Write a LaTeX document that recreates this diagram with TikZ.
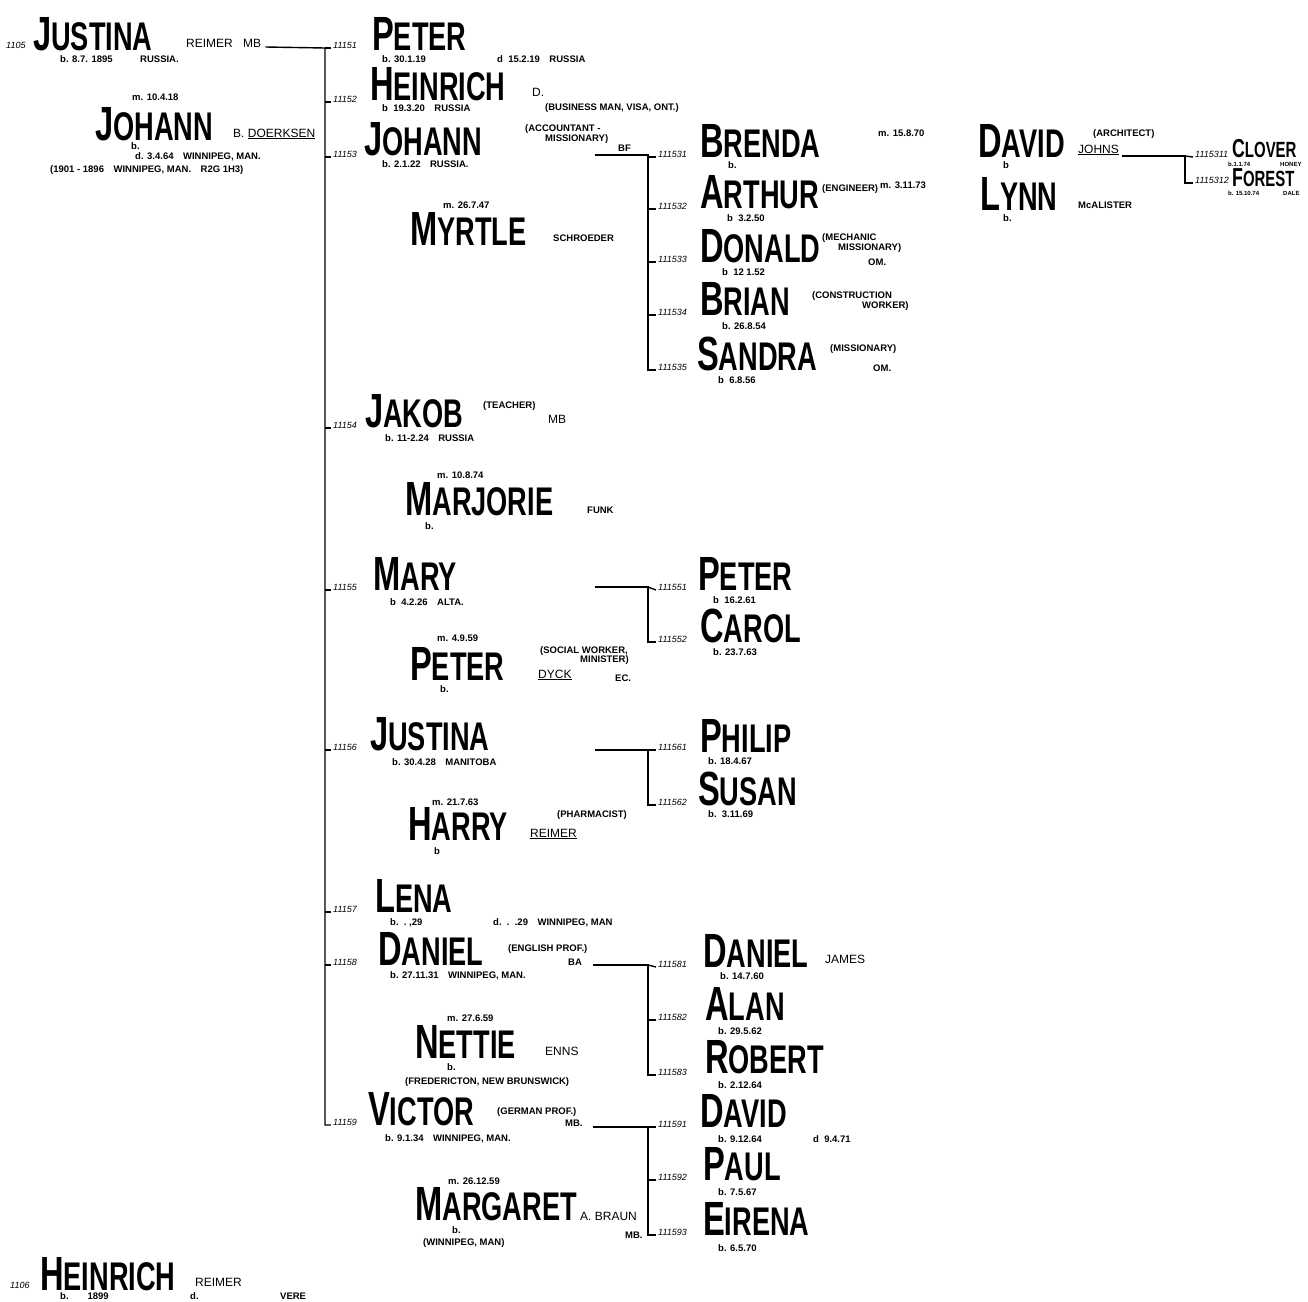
\documentclass[tikz,border=0pt]{standalone}
\usepackage{fontspec}
\setmainfont{Liberation Sans}
\newfontfamily\namefont{Liberation Sans}[FakeStretch=0.68]
\usetikzlibrary{positioning}
\newcommand\nmx[2]{{\fontsize{48}{48}\selectfont #1}{\fontsize{40}{40}\selectfont #2}}
\tikzset{
  nm/.style={anchor=base west,inner sep=0pt,font=\namefont\bfseries},
  md/.style={anchor=base west,inner sep=0pt,font=\fontsize{12}{12}\selectfont},
  tx/.style={anchor=base west,inner sep=0pt,font=\fontsize{9.5}{9.5}\selectfont\bfseries},
  num/.style={anchor=base west,inner sep=0pt,font=\fontsize{9}{9}\selectfont\itshape},
  lnk/.style={line width=1.4pt}
}
\begin{document}
\begin{tikzpicture}[x=1pt,y=-1pt]
\useasboundingbox[fill=white] (0,0) rectangle (1308,1301);

% generation 1
\node[num] (n1105) at (6,48) {1105};
\node[nm] (p1105) at (33,50) {\nmx{J}{USTINA}};
\node[md] (r1105) at (186,47) {REIMER};
\node[md] (mb1105) at (243,47) {MB};
\node[tx] at (60,62) {b. 8.7. 1895};
\node[tx] at (140,62) {RUSSIA.};
\node[tx] at (132,100) {m. 10.4.18};
\node[nm] (s1105) at (95,140) {\nmx{J}{OHANN}};
\node[md] (d1105) at (233,137) {B. \underline{DOERKSEN}};
\node[tx] at (131,149) {b.};
\node[tx] at (135,159) {d. 3.4.64\quad WINNIPEG, MAN.};
\node[tx] at (50,172) {(1901 - 1896\quad WINNIPEG, MAN.\quad R2G 1H3)};

\node[num] (n1106) at (10,1288) {1106};
\node[nm] (p1106) at (40,1290) {\nmx{H}{EINRICH}};
\node[md] at (195,1286) {REIMER};
\node[tx] at (60,1299) {b.\qquad 1899};
\node[tx] at (190,1299) {d.};
\node[tx] at (280,1299) {VERE};

% generation 2
\node[num] (n11151) at (333,48) {11151};
\node[nm] (p11151) at (372,50) {\nmx{P}{ETER}};
\node[tx] at (382,62) {b. 30.1.19};
\node[tx] at (497,62) {d\ \ 15.2.19\quad RUSSIA};

\node[num] (n11152) at (333,102) {11152};
\node[nm] (p11152) at (370,100) {\nmx{H}{EINRICH}};
\node[md] at (532,96) {D.};
\node[tx] at (382,111) {b\ \ 19.3.20\quad RUSSIA};
\node[tx] at (545,110) {(BUSINESS MAN, VISA, ONT.)};

\node[num] (n11153) at (333,157) {11153};
\node[nm] (p11153) at (364,155) {\nmx{J}{OHANN}};
\node[tx] at (525,131) {(ACCOUNTANT -};
\node[tx] at (545,141) {MISSIONARY)};
\node[tx] (bf11153) at (618,151) {BF};
\node[tx] at (382,167) {b. 2.1.22\quad RUSSIA.};
\node[tx] at (443,208) {m. 26.7.47};
\node[nm] (s11153) at (410,245) {\nmx{M}{YRTLE}};
\node[tx] at (553,241) {SCHROEDER};

\node[num] (n11154) at (333,428) {11154};
\node[nm] (p11154) at (365,427) {\nmx{J}{AKOB}};
\node[tx] at (483,408) {(TEACHER)};
\node[md] at (548,423) {MB};
\node[tx] at (385,441) {b. 11-2.24\quad RUSSIA};
\node[tx] at (437,478) {m. 10.8.74};
\node[nm] (s11154) at (405,515) {\nmx{M}{ARJORIE}};
\node[tx] at (587,513) {FUNK};
\node[tx] at (425,529) {b.};

\node[num] (n11155) at (333,590) {11155};
\node[nm] (p11155) at (373,590) {\nmx{M}{ARY}};
\node[tx] at (390,605) {b\ \ 4.2.26\quad ALTA.};
\node[tx] at (437,641) {m. 4.9.59};
\node[nm] (s11155) at (410,680) {\nmx{P}{ETER}};
\node[tx] at (540,653) {(SOCIAL WORKER,};
\node[tx] at (580,662) {MINISTER)};
\node[md] at (538,678) {\underline{DYCK}};
\node[tx] at (615,681) {EC.};
\node[tx] at (440,692) {b.};

\node[num] (n11156) at (333,750) {11156};
\node[nm] (p11156) at (370,750) {\nmx{J}{USTINA}};
\node[tx] at (392,765) {b. 30.4.28\quad MANITOBA};
\node[tx] at (432,805) {m. 21.7.63};
\node[nm] (s11156) at (408,840) {\nmx{H}{ARRY}};
\node[tx] at (557,817) {(PHARMACIST)};
\node[md] at (530,837) {\underline{REIMER}};
\node[tx] at (434,854) {b};

\node[num] (n11157) at (333,912) {11157};
\node[nm] (p11157) at (375,912) {\nmx{L}{ENA}};
\node[tx] at (390,925) {b.\ \ .\ ,29};
\node[tx] at (493,925) {d.\ \ .\ \ .29\quad WINNIPEG, MAN};

\node[num] (n11158) at (333,965) {11158};
\node[nm] (p11158) at (378,965) {\nmx{D}{ANIEL}};
\node[tx] at (508,951) {(ENGLISH PROF.)};
\node[tx] at (568,965) {BA};
\node[tx] at (390,978) {b. 27.11.31\quad WINNIPEG, MAN.};
\node[tx] at (447,1021) {m. 27.6.59};
\node[nm] (s11158) at (415,1058) {\nmx{N}{ETTIE}};
\node[md] at (545,1055) {ENNS};
\node[tx] at (447,1070) {b.};
\node[tx] at (405,1084) {(FREDERICTON, NEW BRUNSWICK)};

\node[num] (n11159) at (333,1125) {11159};
\node[nm] (p11159) at (368,1125) {\nmx{V}{ICTOR}};
\node[tx] at (497,1114) {(GERMAN PROF.)};
\node[tx] at (565,1126) {MB.};
\node[tx] at (385,1141) {b. 9.1.34\quad WINNIPEG, MAN.};
\node[tx] at (448,1184) {m. 26.12.59};
\node[nm] (s11159) at (415,1220) {\nmx{M}{ARGARET}};
\node[md] at (580,1220) {A. BRAUN};
\node[tx] at (625,1238) {MB.};
\node[tx] at (452,1233) {b.};
\node[tx] at (423,1245) {(WINNIPEG, MAN)};

% generation 3
\node[num] (n111531) at (658,157) {111531};
\node[nm] (p111531) at (700,157) {\nmx{B}{RENDA}};
\node[tx] at (728,168) {b.};
\node[tx] at (878,136) {m. 15.8.70};
\node[num] (n111532) at (658,209) {111532};
\node[nm] (p111532) at (700,208) {\nmx{A}{RTHUR}};
\node[tx] at (822,191) {(ENGINEER)};
\node[tx] at (880,188) {m. 3.11.73};
\node[tx] at (727,221) {b\ \ 3.2.50};
\node[num] (n111533) at (658,262) {111533};
\node[nm] (p111533) at (700,262) {\nmx{D}{ONALD}};
\node[tx] at (822,240) {(MECHANIC};
\node[tx] at (838,250) {MISSIONARY)};
\node[tx] at (868,265) {OM.};
\node[tx] at (722,275) {b\ \ 12 1.52};
\node[num] (n111534) at (658,315) {111534};
\node[nm] (p111534) at (700,315) {\nmx{B}{RIAN}};
\node[tx] at (812,298) {(CONSTRUCTION};
\node[tx] at (862,308) {WORKER)};
\node[tx] at (722,329) {b. 26.8.54};
\node[num] (n111535) at (658,370) {111535};
\node[nm] (p111535) at (697,370) {\nmx{S}{ANDRA}};
\node[tx] at (830,351) {(MISSIONARY)};
\node[tx] at (873,371) {OM.};
\node[tx] at (718,383) {b\ \ 6.8.56};

\node[nm] (s111531) at (978,157) {\nmx{D}{AVID}};
\node[tx] at (1093,136) {(ARCHITECT)};
\node[md] (j111531) at (1078,153) {\underline{JOHNS}};
\node[tx] at (1003,168) {b};
\node[nm] (s111532) at (980,210) {\nmx{L}{YNN}};
\node[tx] at (1078,208) {McALISTER};
\node[tx] at (1003,221) {b.};

\node[num] (n111551) at (658,590) {111551};
\node[nm] (p111551) at (698,590) {\nmx{P}{ETER}};
\node[tx] at (713,603) {b\ \ 16.2.61};
\node[num] (n111552) at (658,642) {111552};
\node[nm] (p111552) at (700,642) {\nmx{C}{AROL}};
\node[tx] at (713,655) {b. 23.7.63};

\node[num] (n111561) at (658,750) {111561};
\node[nm] (p111561) at (700,752) {\nmx{P}{HILIP}};
\node[tx] at (708,764) {b. 18.4.67};
\node[num] (n111562) at (658,805) {111562};
\node[nm] (p111562) at (698,805) {\nmx{S}{USAN}};
\node[tx] at (708,817) {b.\ \ 3.11.69};

\node[num] (n111581) at (658,967) {111581};
\node[nm] (p111581) at (703,967) {\nmx{D}{ANIEL}};
\node[md] at (825,963) {JAMES};
\node[tx] at (720,979) {b. 14.7.60};
\node[num] (n111582) at (658,1020) {111582};
\node[nm] (p111582) at (705,1020) {\nmx{A}{LAN}};
\node[tx] at (718,1034) {b. 29.5.62};
\node[num] (n111583) at (658,1075) {111583};
\node[nm] (p111583) at (705,1073) {\nmx{R}{OBERT}};
\node[tx] at (718,1088) {b. 2.12.64};

\node[num] (n111591) at (658,1127) {111591};
\node[nm] (p111591) at (700,1127) {\nmx{D}{AVID}};
\node[tx] at (718,1142) {b. 9.12.64};
\node[tx] at (813,1142) {d\ \ 9.4.71};
\node[num] (n111592) at (658,1180) {111592};
\node[nm] (p111592) at (703,1180) {\nmx{P}{AUL}};
\node[tx] at (718,1195) {b. 7.5.67};
\node[num] (n111593) at (658,1235) {111593};
\node[nm] (p111593) at (703,1235) {\nmx{E}{IRENA}};
\node[tx] at (718,1251) {b. 6.5.70};

% generation 4
\node[num] (n1115311) at (1195,157) {1115311};
\node[nm] (p1115311) at (1232,157) {\fontsize{26}{26}\selectfont C\fontsize{22}{22}\selectfont LOVER};
\node[tx] at (1228,166) {\fontsize{6}{6}\selectfont b.1.1.74};
\node[tx] at (1280,166) {\fontsize{6}{6}\selectfont HONEY};
\node[num] (n1115312) at (1195,183) {1115312};
\node[nm] (p1115312) at (1232,186) {\fontsize{26}{26}\selectfont F\fontsize{22}{22}\selectfont OREST};
\node[tx] at (1228,195) {\fontsize{6}{6}\selectfont b. 15.10.74};
\node[tx] at (1283,195) {\fontsize{6}{6}\selectfont DALE};

% connectors
\coordinate (barA) at (325,48);
\draw[lnk] ([xshift=4pt]mb1105.base east) -- (barA) -- (barA |- n11159.base west) -- ([xshift=-2pt]n11159.base west);
\foreach \k in {11151,11152,11153,11154,11155,11156,11157,11158}
  \draw[lnk] (barA |- n\k.base west) -- ([xshift=-2pt]n\k.base west);

\coordinate (j11153) at (595,155);
\coordinate (barB) at (648,155);
\draw[lnk] (j11153) -- (barB) -- (barB |- n111535.base west) -- ([xshift=-2pt]n111535.base west);
\foreach \k in {111531,111532,111533,111534}
  \draw[lnk] (barB |- n\k.base west) -- ([xshift=-2pt]n\k.base west);

\coordinate (j11155) at (595,587);
\draw[lnk] (j11155) -- (j11155 -| barB) |- ([xshift=-2pt]n111552.base west);
\draw[lnk] (j11155 -| barB) -- ([xshift=-2pt]n111551.base west);

\coordinate (j11156) at (595,750);
\draw[lnk] (j11156) -- (j11156 -| barB) |- ([xshift=-2pt]n111562.base west);
\draw[lnk] (j11156 -| barB) -- ([xshift=-2pt]n111561.base west);

\coordinate (j11158) at (593,965);
\draw[lnk] (j11158) -- (j11158 -| barB) |- ([xshift=-2pt]n111583.base west);
\draw[lnk] (barB |- n111582.base west) -- ([xshift=-2pt]n111582.base west);
\draw[lnk] (j11158 -| barB) -- ([xshift=-2pt]n111581.base west);

\coordinate (j11159) at (593,1127);
\draw[lnk] (j11159) -- (j11159 -| barB) |- ([xshift=-2pt]n111593.base west);
\draw[lnk] (barB |- n111592.base west) -- ([xshift=-2pt]n111592.base west);
\draw[lnk] (j11159 -| barB) -- ([xshift=-2pt]n111591.base west);

\coordinate (barD) at (1185,156);
\draw[lnk] ([xshift=3pt]j111531.base east |- barD) -- (barD) |- ([xshift=-2pt]n1115312.base west);
\draw[lnk] (barD) -- ([xshift=-2pt]n1115311.base west);
\end{tikzpicture}
\end{document}
